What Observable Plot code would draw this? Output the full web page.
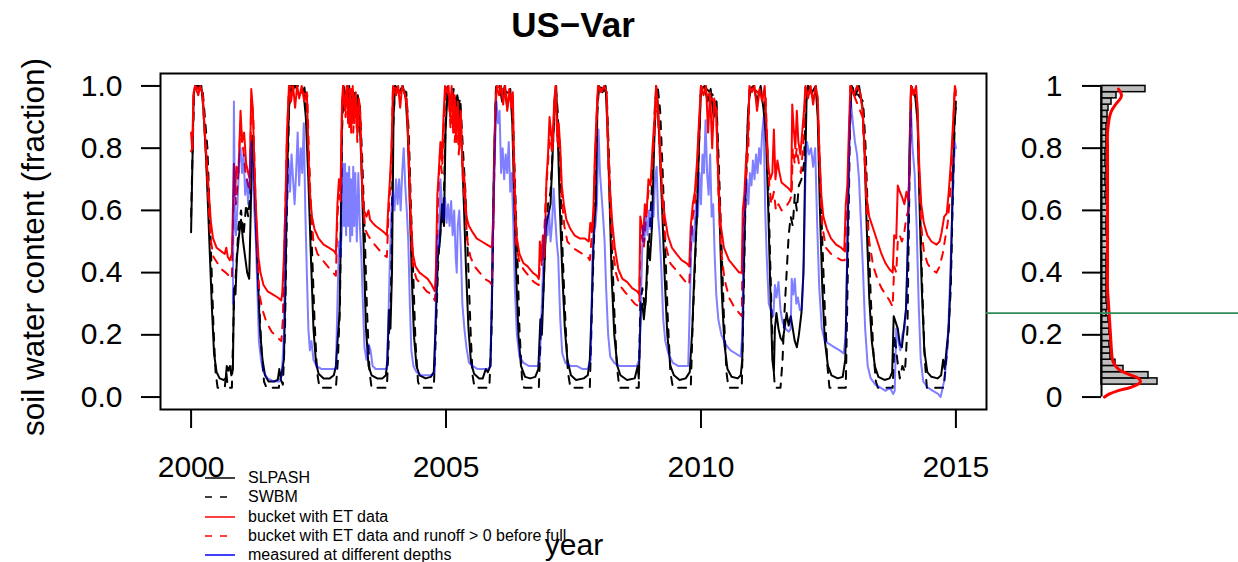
<!DOCTYPE html>
<html><head><meta charset="utf-8">
<script src="https://cdn.jsdelivr.net/npm/d3@7"></script>
<script src="https://cdn.jsdelivr.net/npm/@observablehq/plot@0.6"></script>
<style>
body{margin:0;background:#fff;}
#wrap{position:relative;width:1238px;height:562px;overflow:hidden;font-family:"Liberation Sans",Arial,Helvetica,sans-serif;color:#000;}
#wrap svg{position:absolute;left:0;top:0;}
.abs{position:absolute;white-space:nowrap;line-height:1;}
</style></head><body><div id="wrap"></div>
<script>
const titleText = "US\u2212Var";
const xLabel = "year";
const yLabel = "soil water content (fraction)";
const xTicks = [2000, 2005, 2010, 2015];
const xTickLabels = ["2000", "2005", "2010", "2015"];
const yTicks = [0, 0.2, 0.4, 0.6, 0.8, 1];
const yTickLabels = ["0.0", "0.2", "0.4", "0.6", "0.8", "1.0"];
const histTickLabels = ["0", "0.2", "0.4", "0.6", "0.8", "1"];
const seriesNames = ["SLPASH", "SWBM", "bucket with ET data", "bucket with ET data and runoff > 0 before full", "measured at different depths"];
const greenLevel = 0.27;

const slpash = [[2000.00,0.53],[2000.02,0.70],[2000.05,0.97],[2000.08,1.0],[2000.14,0.99],[2000.20,1.0],[2000.24,0.93],[2000.29,0.78],[2000.33,0.62],[2000.37,0.45],[2000.41,0.28],[2000.45,0.14],[2000.50,0.08],[2000.56,0.06],[2000.64,0.055],[2000.68,0.06],[2000.70,0.10],[2000.73,0.085],[2000.76,0.10],[2000.79,0.07],[2000.82,0.09],[2000.84,0.35],[2000.87,0.33],[2000.90,0.45],[2000.94,0.52],[2000.98,0.57],[2001.02,0.50],[2001.06,0.45],[2001.10,0.40],[2001.14,0.38],[2001.17,0.60],[2001.20,0.84],[2001.23,0.75],[2001.27,0.55],[2001.31,0.38],[2001.35,0.22],[2001.40,0.12],[2001.45,0.07],[2001.52,0.05],[2001.62,0.05],[2001.70,0.055],[2001.73,0.09],[2001.76,0.06],[2001.79,0.09],[2001.82,0.12],[2001.85,0.35],[2001.88,0.70],[2001.92,0.93],[2001.96,0.99],[2002.05,1.0],[2002.12,0.97],[2002.20,0.99],[2002.25,0.90],[2002.30,0.70],[2002.35,0.45],[2002.40,0.22],[2002.45,0.11],[2002.50,0.075],[2002.60,0.06],[2002.72,0.06],[2002.80,0.07],[2002.84,0.10],[2002.88,0.20],[2002.91,0.26],[2002.93,0.45],[2002.96,0.90],[2002.99,1.0],[2003.04,0.96],[2003.08,0.99],[2003.12,0.92],[2003.17,0.98],[2003.22,0.90],[2003.27,0.97],[2003.31,0.88],[2003.35,0.70],[2003.39,0.45],[2003.43,0.22],[2003.48,0.10],[2003.54,0.07],[2003.65,0.06],[2003.75,0.06],[2003.82,0.07],[2003.85,0.12],[2003.88,0.28],[2003.91,0.22],[2003.94,0.40],[2003.97,0.90],[2004.00,1.0],[2004.08,0.98],[2004.15,1.0],[2004.21,0.96],[2004.25,0.85],[2004.29,0.62],[2004.33,0.38],[2004.37,0.20],[2004.42,0.10],[2004.48,0.07],[2004.60,0.06],[2004.70,0.065],[2004.76,0.08],[2004.80,0.25],[2004.84,0.45],[2004.88,0.50],[2004.92,0.62],[2004.96,0.55],[2004.99,0.85],[2005.03,0.99],[2005.08,0.93],[2005.12,0.99],[2005.17,0.90],[2005.22,0.97],[2005.27,0.92],[2005.31,0.80],[2005.35,0.62],[2005.39,0.42],[2005.44,0.22],[2005.49,0.11],[2005.55,0.075],[2005.65,0.06],[2005.72,0.06],[2005.78,0.09],[2005.82,0.08],[2005.87,0.10],[2005.90,0.30],[2005.94,0.75],[2005.98,0.99],[2006.05,1.0],[2006.10,0.95],[2006.15,1.0],[2006.20,0.93],[2006.26,0.99],[2006.30,0.88],[2006.34,0.62],[2006.38,0.38],[2006.42,0.20],[2006.47,0.10],[2006.55,0.065],[2006.65,0.06],[2006.75,0.065],[2006.81,0.09],[2006.85,0.25],[2006.88,0.20],[2006.92,0.38],[2006.96,0.55],[2007.00,0.58],[2007.05,0.62],[2007.09,0.78],[2007.13,0.95],[2007.16,1.0],[2007.19,0.85],[2007.23,0.62],[2007.28,0.40],[2007.33,0.22],[2007.38,0.12],[2007.45,0.07],[2007.55,0.055],[2007.70,0.06],[2007.78,0.07],[2007.82,0.12],[2007.86,0.30],[2007.90,0.55],[2007.94,0.62],[2007.97,0.95],[2008.00,1.0],[2008.07,0.98],[2008.13,1.0],[2008.17,0.85],[2008.21,0.62],[2008.25,0.38],[2008.30,0.20],[2008.36,0.10],[2008.42,0.07],[2008.55,0.055],[2008.70,0.06],[2008.76,0.10],[2008.78,0.06],[2008.82,0.28],[2008.85,0.30],[2008.88,0.25],[2008.92,0.32],[2008.96,0.50],[2009.00,0.44],[2009.04,0.55],[2009.08,0.80],[2009.12,1.0],[2009.15,0.95],[2009.19,0.80],[2009.24,0.60],[2009.29,0.38],[2009.34,0.20],[2009.40,0.10],[2009.47,0.07],[2009.58,0.055],[2009.70,0.06],[2009.78,0.08],[2009.83,0.22],[2009.87,0.40],[2009.92,0.58],[2009.96,0.80],[2010.00,0.99],[2010.07,1.0],[2010.13,0.95],[2010.19,0.99],[2010.25,0.90],[2010.30,0.95],[2010.33,0.78],[2010.37,0.55],[2010.41,0.33],[2010.46,0.17],[2010.52,0.09],[2010.60,0.065],[2010.72,0.06],[2010.78,0.07],[2010.81,0.12],[2010.84,0.40],[2010.88,0.70],[2010.92,0.90],[2010.96,0.99],[2011.03,1.0],[2011.10,0.95],[2011.17,1.0],[2011.23,0.92],[2011.28,0.82],[2011.32,0.60],[2011.36,0.35],[2011.40,0.12],[2011.43,0.08],[2011.45,0.22],[2011.48,0.27],[2011.52,0.22],[2011.56,0.19],[2011.60,0.18],[2011.64,0.22],[2011.68,0.27],[2011.72,0.23],[2011.76,0.26],[2011.80,0.22],[2011.84,0.18],[2011.88,0.16],[2011.92,0.20],[2011.97,0.27],[2012.01,0.40],[2012.04,0.70],[2012.07,0.95],[2012.10,1.0],[2012.18,0.98],[2012.25,1.0],[2012.29,0.90],[2012.33,0.62],[2012.38,0.35],[2012.43,0.18],[2012.49,0.10],[2012.56,0.07],[2012.68,0.06],[2012.78,0.065],[2012.83,0.12],[2012.87,0.45],[2012.91,0.85],[2012.95,1.0],[2013.03,0.97],[2013.10,1.0],[2013.17,0.93],[2013.21,0.78],[2013.25,0.55],[2013.30,0.32],[2013.35,0.18],[2013.41,0.10],[2013.48,0.065],[2013.60,0.055],[2013.70,0.06],[2013.75,0.08],[2013.78,0.26],[2013.82,0.24],[2013.86,0.22],[2013.90,0.17],[2013.94,0.16],[2013.98,0.22],[2014.02,0.28],[2014.06,0.50],[2014.09,0.80],[2014.12,1.0],[2014.20,0.97],[2014.25,0.88],[2014.29,0.60],[2014.33,0.35],[2014.38,0.15],[2014.44,0.08],[2014.52,0.065],[2014.64,0.06],[2014.71,0.07],[2014.75,0.12],[2014.78,0.09],[2014.82,0.16],[2014.86,0.22],[2014.90,0.40],[2014.94,0.70],[2014.97,0.88],[2015.00,0.93]];

const swbm = [[2000.00,0.58],[2000.03,0.80],[2000.06,0.98],[2000.10,1.0],[2000.22,1.0],[2000.27,0.90],[2000.32,0.80],[2000.36,0.62],[2000.40,0.42],[2000.44,0.22],[2000.48,0.08],[2000.52,0.03],[2000.66,0.03],[2000.69,0.08],[2000.72,0.03],[2000.80,0.03],[2000.84,0.30],[2000.88,0.40],[2000.93,0.55],[2000.98,0.60],[2001.03,0.52],[2001.08,0.62],[2001.12,0.58],[2001.16,0.65],[2001.20,0.82],[2001.24,0.70],[2001.29,0.50],[2001.33,0.32],[2001.38,0.15],[2001.43,0.05],[2001.48,0.03],[2001.72,0.03],[2001.75,0.06],[2001.80,0.04],[2001.84,0.20],[2001.88,0.60],[2001.92,0.92],[2001.96,1.0],[2002.22,1.0],[2002.27,0.92],[2002.32,0.72],[2002.37,0.48],[2002.42,0.25],[2002.47,0.08],[2002.52,0.03],[2002.84,0.03],[2002.88,0.12],[2002.92,0.30],[2002.96,0.85],[2002.99,1.0],[2003.05,0.94],[2003.10,1.0],[2003.15,0.90],[2003.20,0.98],[2003.26,0.90],[2003.31,0.94],[2003.36,0.75],[2003.41,0.50],[2003.45,0.28],[2003.50,0.08],[2003.54,0.03],[2003.84,0.03],[2003.88,0.20],[2003.92,0.32],[2003.96,0.85],[2004.00,1.0],[2004.22,0.98],[2004.27,0.85],[2004.31,0.62],[2004.36,0.38],[2004.40,0.18],[2004.45,0.05],[2004.49,0.03],[2004.76,0.03],[2004.80,0.20],[2004.85,0.45],[2004.90,0.55],[2004.95,0.58],[2004.99,0.88],[2005.03,1.0],[2005.10,0.92],[2005.15,0.99],[2005.22,0.92],[2005.28,0.96],[2005.33,0.80],[2005.38,0.66],[2005.43,0.45],[2005.48,0.22],[2005.52,0.07],[2005.56,0.03],[2005.85,0.03],[2005.89,0.20],[2005.94,0.72],[2005.98,1.0],[2006.30,0.97],[2006.35,0.70],[2006.40,0.45],[2006.44,0.22],[2006.49,0.06],[2006.53,0.03],[2006.82,0.03],[2006.86,0.22],[2006.90,0.30],[2006.95,0.52],[2007.00,0.62],[2007.05,0.66],[2007.10,0.82],[2007.15,1.0],[2007.19,0.92],[2007.24,0.70],[2007.29,0.45],[2007.34,0.25],[2007.39,0.08],[2007.44,0.03],[2007.82,0.03],[2007.86,0.28],[2007.91,0.55],[2007.96,0.90],[2008.00,1.0],[2008.15,0.98],[2008.20,0.75],[2008.25,0.50],[2008.30,0.28],[2008.35,0.10],[2008.40,0.03],[2008.78,0.03],[2008.81,0.30],[2008.85,0.35],[2008.90,0.28],[2008.95,0.40],[2009.00,0.55],[2009.05,0.72],[2009.10,0.95],[2009.15,1.0],[2009.20,0.92],[2009.25,0.72],[2009.30,0.48],[2009.35,0.25],[2009.40,0.08],[2009.45,0.03],[2009.80,0.03],[2009.84,0.25],[2009.89,0.45],[2009.94,0.70],[2009.99,0.97],[2010.05,1.0],[2010.30,0.96],[2010.35,0.75],[2010.40,0.50],[2010.45,0.26],[2010.50,0.08],[2010.54,0.03],[2010.80,0.03],[2010.84,0.35],[2010.88,0.68],[2010.93,0.92],[2010.97,1.0],[2011.25,0.96],[2011.30,0.80],[2011.34,0.55],[2011.38,0.30],[2011.42,0.10],[2011.45,0.03],[2011.56,0.03],[2011.60,0.12],[2011.64,0.28],[2011.68,0.40],[2011.72,0.52],[2011.76,0.58],[2011.80,0.55],[2011.84,0.65],[2011.88,0.60],[2011.92,0.68],[2011.97,0.70],[2012.02,0.75],[2012.06,0.95],[2012.10,1.0],[2012.28,0.97],[2012.33,0.75],[2012.38,0.50],[2012.43,0.28],[2012.48,0.10],[2012.52,0.03],[2012.84,0.03],[2012.88,0.40],[2012.92,0.85],[2012.95,1.0],[2013.18,0.95],[2013.23,0.80],[2013.28,0.55],[2013.33,0.32],[2013.38,0.15],[2013.43,0.05],[2013.47,0.03],[2013.76,0.03],[2013.80,0.20],[2013.85,0.12],[2013.90,0.06],[2013.95,0.10],[2014.00,0.08],[2014.05,0.22],[2014.09,0.70],[2014.13,1.0],[2014.24,0.95],[2014.29,0.65],[2014.34,0.35],[2014.39,0.12],[2014.43,0.03],[2014.76,0.03],[2014.80,0.10],[2014.85,0.20],[2014.90,0.35],[2014.94,0.65],[2014.98,0.90],[2015.00,0.95]];

const bucket = [[2000.00,0.85],[2000.02,0.80],[2000.05,0.98],[2000.08,1.0],[2000.14,0.97],[2000.18,1.0],[2000.23,0.97],[2000.27,0.85],[2000.31,0.75],[2000.35,0.65],[2000.39,0.56],[2000.43,0.51],[2000.50,0.48],[2000.58,0.47],[2000.66,0.46],[2000.69,0.48],[2000.72,0.45],[2000.76,0.44],[2000.80,0.46],[2000.82,0.60],[2000.84,0.75],[2000.86,0.65],[2000.89,0.74],[2000.93,0.72],[2000.97,0.92],[2001.00,0.82],[2001.04,0.85],[2001.08,0.75],[2001.12,0.72],[2001.15,0.70],[2001.18,0.99],[2001.21,0.93],[2001.25,0.70],[2001.28,0.58],[2001.32,0.45],[2001.36,0.40],[2001.42,0.36],[2001.50,0.34],[2001.60,0.33],[2001.70,0.32],[2001.77,0.31],[2001.79,0.34],[2001.82,0.45],[2001.85,0.62],[2001.88,0.85],[2001.92,1.0],[2001.96,0.95],[2002.00,1.0],[2002.04,0.93],[2002.08,1.0],[2002.12,0.96],[2002.17,1.0],[2002.22,0.95],[2002.27,0.98],[2002.30,0.80],[2002.33,0.66],[2002.37,0.58],[2002.42,0.54],[2002.50,0.51],[2002.60,0.49],[2002.70,0.48],[2002.80,0.47],[2002.84,0.46],[2002.87,0.62],[2002.90,0.70],[2002.93,0.66],[2002.96,0.95],[2002.98,1.0],[2003.02,0.92],[2003.05,1.0],[2003.08,0.88],[2003.11,0.99],[2003.14,0.85],[2003.17,1.0],[2003.20,0.88],[2003.23,0.98],[2003.26,0.84],[2003.29,0.96],[2003.32,0.90],[2003.35,0.70],[2003.39,0.60],[2003.44,0.58],[2003.48,0.60],[2003.51,0.57],[2003.56,0.56],[2003.62,0.55],[2003.70,0.54],[2003.78,0.53],[2003.84,0.52],[2003.87,0.62],[2003.90,0.70],[2003.93,0.80],[2003.96,1.0],[2004.02,0.97],[2004.06,1.0],[2004.10,0.93],[2004.14,1.0],[2004.20,0.97],[2004.24,0.92],[2004.27,0.78],[2004.31,0.58],[2004.35,0.46],[2004.40,0.42],[2004.48,0.40],[2004.56,0.39],[2004.64,0.38],[2004.72,0.36],[2004.78,0.34],[2004.80,0.40],[2004.83,0.65],[2004.86,0.73],[2004.89,0.82],[2004.92,0.76],[2004.95,0.90],[2004.98,1.0],[2005.02,0.98],[2005.05,1.0],[2005.08,0.90],[2005.11,1.0],[2005.14,0.85],[2005.17,0.97],[2005.20,0.82],[2005.23,0.95],[2005.26,0.80],[2005.29,0.92],[2005.32,0.75],[2005.36,0.70],[2005.40,0.58],[2005.45,0.55],[2005.52,0.53],[2005.60,0.51],[2005.70,0.50],[2005.80,0.49],[2005.90,0.48],[2005.93,0.60],[2005.96,0.88],[2005.99,1.0],[2006.04,0.97],[2006.08,1.0],[2006.12,0.94],[2006.16,1.0],[2006.20,0.92],[2006.24,0.99],[2006.28,0.93],[2006.31,0.98],[2006.34,0.72],[2006.38,0.52],[2006.44,0.46],[2006.52,0.43],[2006.60,0.42],[2006.70,0.40],[2006.78,0.39],[2006.82,0.38],[2006.84,0.50],[2006.87,0.45],[2006.90,0.52],[2006.93,0.45],[2006.97,0.70],[2007.00,0.78],[2007.03,0.90],[2007.06,0.85],[2007.09,0.80],[2007.12,0.95],[2007.15,1.0],[2007.18,0.84],[2007.21,0.88],[2007.24,0.80],[2007.27,0.68],[2007.31,0.62],[2007.36,0.57],[2007.44,0.54],[2007.52,0.52],[2007.62,0.51],[2007.72,0.51],[2007.80,0.50],[2007.83,0.56],[2007.86,0.53],[2007.89,0.60],[2007.92,0.78],[2007.95,0.90],[2007.98,1.0],[2008.04,0.98],[2008.10,1.0],[2008.15,0.98],[2008.18,0.80],[2008.22,0.66],[2008.26,0.56],[2008.31,0.48],[2008.38,0.41],[2008.46,0.38],[2008.55,0.37],[2008.65,0.35],[2008.75,0.34],[2008.79,0.33],[2008.81,0.58],[2008.84,0.55],[2008.87,0.52],[2008.90,0.62],[2008.93,0.58],[2008.97,0.70],[2009.01,0.68],[2009.05,0.80],[2009.09,0.90],[2009.12,1.0],[2009.16,0.92],[2009.20,0.80],[2009.24,0.65],[2009.29,0.58],[2009.35,0.52],[2009.43,0.48],[2009.52,0.46],[2009.62,0.44],[2009.72,0.43],[2009.77,0.42],[2009.80,0.55],[2009.84,0.62],[2009.88,0.66],[2009.92,0.75],[2009.96,0.88],[2010.00,1.0],[2010.05,0.97],[2010.10,1.0],[2010.14,0.85],[2010.18,0.98],[2010.22,0.80],[2010.26,0.96],[2010.30,0.90],[2010.34,0.70],[2010.39,0.55],[2010.45,0.48],[2010.55,0.44],[2010.65,0.42],[2010.75,0.40],[2010.80,0.40],[2010.82,0.60],[2010.85,0.65],[2010.88,0.75],[2010.92,0.82],[2010.95,1.0],[2011.00,0.98],[2011.05,1.0],[2011.10,0.92],[2011.15,0.99],[2011.20,0.95],[2011.25,1.0],[2011.29,0.85],[2011.32,0.74],[2011.36,0.70],[2011.40,0.72],[2011.43,0.86],[2011.46,0.70],[2011.50,0.76],[2011.54,0.72],[2011.58,0.69],[2011.65,0.68],[2011.72,0.67],[2011.77,0.66],[2011.79,0.94],[2011.82,0.86],[2011.85,0.80],[2011.88,0.92],[2011.91,0.82],[2011.95,0.78],[2011.99,0.86],[2012.02,0.92],[2012.05,1.0],[2012.10,0.96],[2012.15,1.0],[2012.20,0.94],[2012.25,1.0],[2012.29,0.96],[2012.32,0.80],[2012.36,0.65],[2012.40,0.58],[2012.47,0.54],[2012.55,0.51],[2012.65,0.49],[2012.75,0.48],[2012.81,0.47],[2012.84,0.62],[2012.87,0.68],[2012.90,0.85],[2012.93,1.0],[2013.00,0.97],[2013.06,1.0],[2013.12,0.98],[2013.17,0.92],[2013.21,0.80],[2013.25,0.64],[2013.30,0.58],[2013.38,0.54],[2013.46,0.50],[2013.54,0.46],[2013.62,0.43],[2013.70,0.41],[2013.76,0.40],[2013.79,0.52],[2013.83,0.51],[2013.86,0.68],[2013.90,0.66],[2013.95,0.64],[2013.99,0.62],[2014.03,0.66],[2014.07,0.63],[2014.10,0.80],[2014.12,1.0],[2014.17,0.97],[2014.22,1.0],[2014.25,0.92],[2014.28,0.75],[2014.32,0.62],[2014.37,0.56],[2014.44,0.52],[2014.52,0.50],[2014.62,0.49],[2014.68,0.50],[2014.72,0.53],[2014.77,0.58],[2014.82,0.59],[2014.86,0.66],[2014.90,0.75],[2014.95,0.90],[2014.98,1.0],[2015.00,0.98]];

const bucketRunoff = [[2000.00,0.79],[2000.03,0.80],[2000.05,0.97],[2000.08,1.0],[2000.22,0.98],[2000.27,0.84],[2000.31,0.72],[2000.35,0.60],[2000.39,0.50],[2000.44,0.45],[2000.52,0.43],[2000.60,0.41],[2000.68,0.40],[2000.74,0.39],[2000.80,0.38],[2000.82,0.55],[2000.85,0.72],[2000.88,0.62],[2000.92,0.70],[2000.97,0.88],[2001.02,0.80],[2001.07,0.72],[2001.12,0.68],[2001.15,0.66],[2001.18,0.96],[2001.22,0.90],[2001.26,0.65],[2001.30,0.45],[2001.34,0.33],[2001.40,0.28],[2001.48,0.24],[2001.58,0.21],[2001.70,0.19],[2001.77,0.18],[2001.80,0.25],[2001.84,0.55],[2001.88,0.83],[2001.92,1.0],[2002.28,0.97],[2002.31,0.78],[2002.35,0.60],[2002.40,0.50],[2002.48,0.46],[2002.58,0.44],[2002.68,0.42],[2002.78,0.40],[2002.84,0.39],[2002.87,0.58],[2002.90,0.65],[2002.93,0.62],[2002.96,0.92],[2002.98,1.0],[2003.03,0.90],[2003.07,1.0],[2003.10,0.86],[2003.14,0.99],[2003.18,0.85],[2003.22,0.97],[2003.26,0.82],[2003.30,0.95],[2003.33,0.85],[2003.36,0.65],[2003.41,0.54],[2003.47,0.52],[2003.55,0.50],[2003.65,0.48],[2003.75,0.46],[2003.84,0.45],[2003.87,0.58],[2003.90,0.66],[2003.93,0.78],[2003.96,1.0],[2004.23,0.96],[2004.27,0.75],[2004.31,0.52],[2004.35,0.42],[2004.42,0.38],[2004.52,0.36],[2004.62,0.34],[2004.72,0.33],[2004.78,0.31],[2004.81,0.38],[2004.84,0.62],[2004.88,0.78],[2004.92,0.72],[2004.96,0.88],[2004.99,1.0],[2005.05,0.97],[2005.09,0.86],[2005.13,0.98],[2005.17,0.82],[2005.21,0.93],[2005.25,0.78],[2005.29,0.90],[2005.33,0.70],[2005.37,0.62],[2005.42,0.50],[2005.48,0.45],[2005.56,0.42],[2005.66,0.40],[2005.76,0.38],[2005.86,0.37],[2005.90,0.36],[2005.93,0.55],[2005.96,0.85],[2005.99,1.0],[2006.30,0.97],[2006.33,0.68],[2006.37,0.50],[2006.43,0.44],[2006.52,0.41],[2006.62,0.39],[2006.72,0.37],[2006.82,0.36],[2006.85,0.47],[2006.88,0.42],[2006.92,0.50],[2006.96,0.66],[2007.00,0.75],[2007.04,0.86],[2007.08,0.78],[2007.12,0.92],[2007.15,1.0],[2007.19,0.80],[2007.23,0.84],[2007.27,0.64],[2007.32,0.55],[2007.38,0.50],[2007.48,0.48],[2007.58,0.47],[2007.68,0.46],[2007.78,0.45],[2007.82,0.44],[2007.85,0.50],[2007.89,0.57],[2007.92,0.75],[2007.95,0.88],[2007.98,1.0],[2008.15,0.97],[2008.18,0.76],[2008.22,0.60],[2008.27,0.48],[2008.33,0.40],[2008.40,0.36],[2008.50,0.34],[2008.60,0.32],[2008.70,0.30],[2008.79,0.29],[2008.81,0.50],[2008.84,0.52],[2008.88,0.48],[2008.92,0.58],[2008.97,0.66],[2009.02,0.70],[2009.06,0.78],[2009.10,0.88],[2009.13,0.97],[2009.17,0.86],[2009.21,0.72],[2009.26,0.58],[2009.32,0.48],[2009.40,0.43],[2009.50,0.41],[2009.60,0.39],[2009.70,0.37],[2009.77,0.36],[2009.80,0.48],[2009.84,0.58],[2009.88,0.62],[2009.92,0.72],[2009.96,0.86],[2010.00,1.0],[2010.30,0.94],[2010.34,0.66],[2010.39,0.48],[2010.46,0.38],[2010.55,0.32],[2010.65,0.29],[2010.75,0.27],[2010.80,0.26],[2010.82,0.50],[2010.86,0.62],[2010.89,0.72],[2010.93,0.80],[2010.95,1.0],[2011.27,0.96],[2011.30,0.80],[2011.34,0.68],[2011.38,0.62],[2011.43,0.66],[2011.47,0.60],[2011.52,0.62],[2011.58,0.60],[2011.66,0.61],[2011.74,0.63],[2011.78,0.65],[2011.80,0.80],[2011.84,0.75],[2011.88,0.80],[2011.92,0.75],[2011.96,0.72],[2012.00,0.80],[2012.03,0.90],[2012.05,1.0],[2012.29,0.95],[2012.33,0.72],[2012.38,0.55],[2012.45,0.48],[2012.55,0.46],[2012.65,0.45],[2012.75,0.44],[2012.82,0.44],[2012.85,0.58],[2012.88,0.66],[2012.91,0.84],[2012.93,1.0],[2013.17,0.90],[2013.21,0.76],[2013.25,0.60],[2013.30,0.50],[2013.38,0.42],[2013.46,0.38],[2013.54,0.35],[2013.62,0.33],[2013.70,0.31],[2013.76,0.29],[2013.79,0.42],[2013.83,0.40],[2013.86,0.50],[2013.90,0.52],[2013.94,0.50],[2013.98,0.52],[2014.03,0.58],[2014.07,0.60],[2014.10,0.78],[2014.12,1.0],[2014.24,0.95],[2014.28,0.72],[2014.32,0.55],[2014.37,0.47],[2014.44,0.43],[2014.52,0.41],[2014.62,0.40],[2014.68,0.42],[2014.74,0.46],[2014.80,0.52],[2014.84,0.56],[2014.88,0.64],[2014.92,0.74],[2014.95,0.88],[2014.98,1.0],[2015.00,0.97]];

const measured = [[2000.82,0.30],[2000.83,0.62],[2000.84,0.95],[2000.86,0.55],[2000.88,0.52],[2000.91,0.62],[2000.94,0.75],[2000.97,0.80],[2001.00,0.72],[2001.03,0.78],[2001.06,0.65],[2001.09,0.70],[2001.12,0.62],[2001.15,0.70],[2001.18,0.82],[2001.21,0.72],[2001.24,0.60],[2001.27,0.50],[2001.30,0.35],[2001.33,0.18],[2001.37,0.12],[2001.42,0.08],[2001.50,0.06],[2001.62,0.05],[2001.74,0.05],[2001.78,0.07],[2001.82,0.20],[2001.85,0.55],[2001.88,0.62],[2001.91,0.76],[2001.94,0.66],[2001.97,0.78],[2002.00,0.70],[2002.03,0.62],[2002.06,0.72],[2002.09,0.85],[2002.12,0.68],[2002.15,0.80],[2002.18,0.72],[2002.21,0.88],[2002.24,0.60],[2002.27,0.40],[2002.30,0.22],[2002.33,0.15],[2002.36,0.18],[2002.40,0.12],[2002.46,0.10],[2002.56,0.09],[2002.66,0.09],[2002.76,0.09],[2002.84,0.09],[2002.87,0.30],[2002.90,0.50],[2002.93,0.45],[2002.96,0.55],[2002.98,0.75],[2003.00,0.55],[2003.02,0.75],[2003.04,0.52],[2003.06,0.72],[2003.08,0.55],[2003.10,0.74],[2003.12,0.50],[2003.14,0.70],[2003.16,0.52],[2003.18,0.74],[2003.20,0.55],[2003.22,0.72],[2003.25,0.50],[2003.28,0.72],[2003.31,0.55],[2003.34,0.45],[2003.37,0.30],[2003.40,0.16],[2003.44,0.12],[2003.48,0.17],[2003.52,0.15],[2003.56,0.10],[2003.62,0.09],[2003.70,0.09],[2003.78,0.09],[2003.84,0.09],[2003.87,0.25],[2003.90,0.45],[2003.93,0.60],[2003.96,0.66],[2003.99,0.60],[2004.02,0.70],[2004.05,0.62],[2004.08,0.70],[2004.11,0.60],[2004.14,0.72],[2004.17,0.80],[2004.20,0.68],[2004.23,0.60],[2004.26,0.50],[2004.29,0.30],[2004.32,0.15],[2004.36,0.10],[2004.42,0.08],[2004.52,0.07],[2004.62,0.07],[2004.72,0.07],[2004.78,0.08],[2004.80,0.30],[2004.83,0.52],[2004.86,0.48],[2004.89,0.70],[2004.92,0.62],[2004.95,0.57],[2004.98,0.64],[2005.01,0.56],[2005.04,0.62],[2005.07,0.55],[2005.10,0.63],[2005.13,0.52],[2005.16,0.60],[2005.19,0.45],[2005.21,0.40],[2005.23,0.55],[2005.26,0.60],[2005.29,0.48],[2005.32,0.30],[2005.36,0.22],[2005.40,0.16],[2005.45,0.11],[2005.52,0.10],[2005.62,0.09],[2005.72,0.09],[2005.82,0.09],[2005.87,0.10],[2005.90,0.35],[2005.93,0.60],[2005.96,0.80],[2005.99,0.95],[2006.02,0.88],[2006.05,0.92],[2006.08,0.72],[2006.11,0.80],[2006.14,0.70],[2006.17,0.78],[2006.20,0.72],[2006.23,0.82],[2006.26,0.66],[2006.29,0.72],[2006.32,0.55],[2006.35,0.35],[2006.39,0.20],[2006.44,0.13],[2006.52,0.11],[2006.62,0.10],[2006.72,0.10],[2006.80,0.10],[2006.84,0.12],[2006.88,0.30],[2006.92,0.50],[2006.96,0.58],[2006.99,0.52],[2007.02,0.60],[2007.05,0.50],[2007.08,0.56],[2007.11,0.67],[2007.14,0.58],[2007.17,0.50],[2007.20,0.45],[2007.24,0.25],[2007.28,0.14],[2007.34,0.11],[2007.44,0.10],[2007.56,0.10],[2007.68,0.09],[2007.78,0.09],[2007.84,0.12],[2007.87,0.45],[2007.90,0.52],[2007.93,0.55],[2007.96,0.62],[2007.99,0.86],[2008.02,0.72],[2008.05,0.65],[2008.08,0.58],[2008.11,0.50],[2008.14,0.35],[2008.18,0.20],[2008.22,0.13],[2008.30,0.11],[2008.40,0.10],[2008.52,0.10],[2008.64,0.10],[2008.74,0.10],[2008.79,0.12],[2008.82,0.30],[2008.86,0.55],[2008.89,0.50],[2008.92,0.58],[2008.95,0.52],[2008.98,0.60],[2009.01,0.54],[2009.04,0.62],[2009.07,0.58],[2009.10,0.70],[2009.13,0.74],[2009.16,0.58],[2009.19,0.52],[2009.22,0.42],[2009.26,0.25],[2009.30,0.18],[2009.36,0.14],[2009.45,0.11],[2009.55,0.10],[2009.65,0.10],[2009.75,0.10],[2009.79,0.35],[2009.82,0.55],[2009.86,0.50],[2009.90,0.62],[2009.94,0.58],[2009.97,0.72],[2010.00,0.62],[2010.03,0.78],[2010.06,0.72],[2010.09,0.89],[2010.12,0.72],[2010.15,0.65],[2010.18,0.78],[2010.21,0.58],[2010.24,0.62],[2010.27,0.45],[2010.30,0.33],[2010.34,0.25],[2010.40,0.20],[2010.48,0.17],[2010.58,0.15],[2010.68,0.14],[2010.78,0.13],[2010.81,0.20],[2010.84,0.55],[2010.87,0.65],[2010.90,0.70],[2010.93,0.62],[2010.96,0.72],[2010.99,0.68],[2011.02,0.76],[2011.05,0.70],[2011.08,0.78],[2011.11,0.72],[2011.14,0.80],[2011.17,0.75],[2011.20,0.85],[2011.23,0.90],[2011.26,0.60],[2011.29,0.45],[2011.33,0.30],[2011.37,0.28],[2011.42,0.26],[2011.45,0.36],[2011.48,0.32],[2011.52,0.37],[2011.56,0.28],[2011.60,0.24],[2011.66,0.22],[2011.72,0.21],[2011.76,0.22],[2011.78,0.38],[2011.81,0.33],[2011.84,0.38],[2011.87,0.30],[2011.90,0.32],[2011.94,0.28],[2011.98,0.28],[2012.02,0.45],[2012.05,0.72],[2012.08,0.82],[2012.12,0.78],[2012.16,0.80],[2012.20,0.74],[2012.24,0.80],[2012.28,0.55],[2012.32,0.35],[2012.37,0.22],[2012.43,0.18],[2012.52,0.17],[2012.62,0.16],[2012.72,0.15],[2012.80,0.14],[2012.84,0.20],[2012.87,0.50],[2012.91,0.80],[2012.94,0.95],[2012.98,0.88],[2013.02,0.82],[2013.06,0.78],[2013.10,0.70],[2013.14,0.55],[2013.18,0.40],[2013.22,0.22],[2013.27,0.10],[2013.33,0.06],[2013.42,0.04],[2013.52,0.03],[2013.62,0.02],[2013.70,0.03],[2013.74,0.02],[2013.77,0.01],[2013.80,0.02],[2013.83,0.22],[2013.87,0.18],[2013.91,0.15],[2013.95,0.20],[2013.99,0.22],[2014.03,0.30],[2014.06,0.55],[2014.09,0.75],[2014.12,0.92],[2014.15,0.80],[2014.19,0.72],[2014.23,0.55],[2014.27,0.30],[2014.31,0.12],[2014.36,0.05],[2014.45,0.03],[2014.55,0.02],[2014.65,0.01],[2014.70,0.0],[2014.74,0.03],[2014.78,0.06],[2014.83,0.15],[2014.87,0.30],[2014.91,0.50],[2014.95,0.70],[2014.98,0.82],[2015.00,0.80]];

const histLower = [0,0.02,0.04,0.06,0.08,0.10,0.12,0.14,0.16,0.18,0.20,0.22,0.24,0.26,0.28,0.30,0.32,0.34,0.36,0.38,0.40,0.42,0.44,0.46,0.48,0.50,0.52,0.54,0.56,0.58,0.60,0.62,0.64,0.66,0.68,0.70,0.72,0.74,0.76,0.78,0.80,0.82,0.84,0.86,0.88,0.90,0.92,0.94,0.96,0.98];
const histCount = [0,0,56,47,22,14,9,9,8,9,8,8,7,5,6,5,5,5,5,5,5,5,5,6,6,6,5,5,5,6,6,5,4,5,4,4,5,4,4,4,5,5,5,5,6,6,7,10,15,44];
const densityY = [0,0.01,0.02,0.03,0.04,0.05,0.06,0.07,0.08,0.09,0.10,0.12,0.15,0.20,0.25,0.30,0.35,0.40,0.50,0.60,0.70,0.80,0.85,0.88,0.90,0.92,0.94,0.96,0.97,0.98,0.99];
const densityX = [3,8,16,28,36,39,37,30,22,17,14,11,10,9,8,7,6,6,6,6,6,6,6,7,8,10,14,19,20,19,17];

const font = "Liberation Sans, Arial, Helvetica, sans-serif";
const wrap = document.getElementById("wrap");

const lineOpts = (stroke, extra) => Object.assign({x: d => d[0], y: d => d[1], stroke, strokeWidth: 2}, extra || {});

const main = Plot.plot({
  width: 1238, height: 562,
  marginLeft: 160, marginRight: 252, marginTop: 73, marginBottom: 153,
  style: {fontFamily: font, fontSize: "30px", background: "transparent", overflow: "visible", color: "black"},
  x: {domain: [1999.4, 2015.6]},
  y: {domain: [-0.04, 1.04]},
  marks: [
    Plot.line(slpash, lineOpts("black")),
    Plot.line(swbm, lineOpts("black", {strokeDasharray: "8,8"})),
    Plot.line(bucket, lineOpts("red")),
    Plot.line(bucketRunoff, lineOpts("red", {strokeDasharray: "8,8"})),
    Plot.line(measured, lineOpts("blue", {strokeOpacity: 0.5})),
    Plot.frame({stroke: "black", strokeWidth: 2}),
    Plot.axisX({ticks: xTicks, tickSize: 19, tickPadding: 27, strokeWidth: 2, fontSize: 30, label: null,
      tickFormat: d => xTickLabels[xTicks.indexOf(d)]}),
    Plot.axisY({ticks: yTicks, tickSize: 19, tickPadding: 19, strokeWidth: 2, fontSize: 30, label: null,
      tickFormat: d => yTickLabels[yTicks.indexOf(d)]})
  ]
});
wrap.appendChild(main);

const histRows = histLower.map((lo, i) => ({lo, hi: lo + 0.02, n: histCount[i]})).filter(d => d.n > 0);
const dens = densityY.map((y, i) => ({y, x: densityX[i]}));

const hist = Plot.plot({
  width: 1238, height: 562,
  marginLeft: 986, marginRight: 0, marginTop: 73, marginBottom: 153,
  style: {fontFamily: font, fontSize: "30px", background: "transparent", overflow: "visible", color: "black"},
  x: {domain: [-115, 137], axis: null},
  y: {domain: [-0.04, 1.04], axis: null},
  marks: [
    Plot.rectX(histRows, {x1: 0, x2: "n", y1: "lo", y2: "hi", fill: "#bebebe", stroke: "black", strokeWidth: 1.5}),
    Plot.ruleX([0], {y1: 0, y2: 1, stroke: "black", strokeWidth: 2}),
    Plot.ruleY(yTicks, {x1: -19, x2: 0, stroke: "black", strokeWidth: 2}),
    Plot.text(yTicks, {x: -39, y: d => d, text: (d, i) => histTickLabels[i], textAnchor: "end", fontSize: 30, fill: "black"}),
    Plot.line(dens, {x: "x", y: "y", stroke: "red", strokeWidth: 3, curve: "catmull-rom"}),
    Plot.ruleY([greenLevel], {stroke: "#2e8b57", strokeWidth: 1.8})
  ]
});
wrap.appendChild(hist);

function addText(txt, css) {
  const d = document.createElement("div");
  d.className = "abs";
  d.textContent = txt;
  Object.assign(d.style, css);
  wrap.appendChild(d);
  return d;
}
addText(titleText, {left: "573px", top: "7px", transform: "translateX(-50%)", fontWeight: "bold", fontSize: "35px"});
addText(xLabel, {left: "574px", top: "530px", transform: "translateX(-50%)", fontSize: "30px"});
addText(yLabel, {left: "34px", top: "247px", transform: "translate(-50%,-50%) rotate(-90deg)", fontSize: "31.5px"});

// legend
const legendStyles = [
  {stroke: "black", dash: null},
  {stroke: "black", dash: "7,8"},
  {stroke: "red", dash: null},
  {stroke: "red", dash: "7,8"},
  {stroke: "blue", dash: null}
];
const legendY = [478, 497, 516.5, 536, 555];
seriesNames.forEach((name, i) => {
  const ns = "http://www.w3.org/2000/svg";
  const svg = document.createElementNS(ns, "svg");
  svg.setAttribute("width", "34"); svg.setAttribute("height", "6");
  svg.style.left = "203px"; svg.style.top = (legendY[i] - 3) + "px";
  const ln = document.createElementNS(ns, "line");
  ln.setAttribute("x1", "2"); ln.setAttribute("x2", "32"); ln.setAttribute("y1", "3"); ln.setAttribute("y2", "3");
  ln.setAttribute("stroke", legendStyles[i].stroke); ln.setAttribute("stroke-width", "1.5");
  if (legendStyles[i].dash) ln.setAttribute("stroke-dasharray", legendStyles[i].dash);
  svg.appendChild(ln);
  wrap.appendChild(svg);
  addText(name, {left: "248px", top: (legendY[i] - 8) + "px", fontSize: "16px"});
});
</script></body></html>
